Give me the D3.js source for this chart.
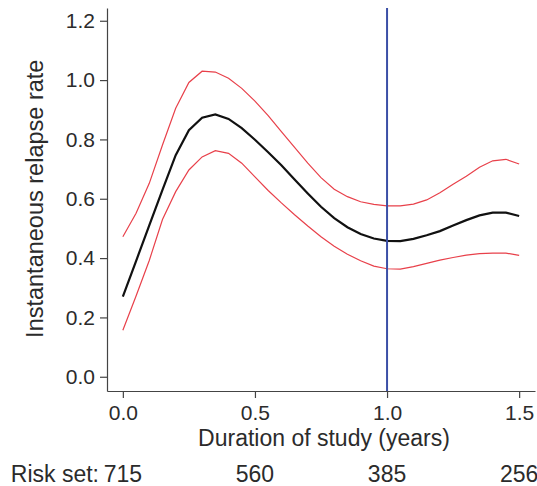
<!DOCTYPE html>
<html>
<head>
<meta charset="utf-8">
<script src="https://cdn.jsdelivr.net/npm/d3@7"></script>
<style>
  body { margin: 0; background: #fff; }
  text { font-family: "Liberation Sans", Arial, sans-serif; fill: #2b2b2b; }
</style>
</head>
<body>
<script>
// data (time in years, rate)
const times = [0, 0.05, 0.1, 0.15, 0.2, 0.25, 0.3, 0.35, 0.4, 0.45, 0.5,
  0.55, 0.6, 0.65, 0.7, 0.75, 0.8, 0.85, 0.9, 0.95, 1.0,
  1.05, 1.1, 1.15, 1.2, 1.25, 1.3, 1.35, 1.4, 1.45, 1.5];
const rate = [0.27, 0.39, 0.51, 0.63, 0.747, 0.831, 0.873, 0.884, 0.869, 0.838, 0.799,
  0.757, 0.713, 0.665, 0.618, 0.573, 0.535, 0.504, 0.481, 0.466, 0.458,
  0.457, 0.465, 0.477, 0.491, 0.51, 0.528, 0.544, 0.553, 0.553, 0.542];
const upper = [0.472, 0.551, 0.652, 0.781, 0.905, 0.992, 1.03, 1.027, 1.006, 0.972, 0.929,
  0.88, 0.826, 0.773, 0.72, 0.671, 0.632, 0.607, 0.59, 0.581, 0.576,
  0.576, 0.582, 0.596, 0.62, 0.649, 0.676, 0.706, 0.728, 0.733, 0.717];
const lower = [0.157, 0.272, 0.392, 0.53, 0.624, 0.697, 0.741, 0.762, 0.753, 0.72, 0.674,
  0.628, 0.586, 0.546, 0.508, 0.472, 0.44, 0.413, 0.391, 0.373, 0.364,
  0.363, 0.371, 0.382, 0.393, 0.402, 0.41, 0.415, 0.417, 0.417, 0.409];
const xTicks = [0, 0.5, 1.0, 1.5];
const yTicks = [0, 0.2, 0.4, 0.6, 0.8, 1.0, 1.2];
const riskSet = [715, 560, 385, 256];
const cutoff = 1.0;

const w = 537, h = 486;

const svg = d3.select("body").append("svg")
  .attr("width", w)
  .attr("height", h);

const x = d3.scaleLinear().domain([-0.06, 1.56]).range([107, 535]);
const y = d3.scaleLinear().domain([-0.048, 1.243]).range([391, 8]);

// axes
const xAxis = d3.axisBottom(x).tickValues(xTicks).tickFormat(d3.format(".1f"))
  .tickSizeInner(7).tickSizeOuter(0).tickPadding(7);
const yAxis = d3.axisLeft(y).tickValues(yTicks).tickFormat(d3.format(".1f"))
  .tickSizeInner(7).tickSizeOuter(0).tickPadding(5);

const gx = svg.append("g")
  .attr("transform", "translate(0," + y.range()[0] + ")")
  .call(xAxis);
const gy = svg.append("g")
  .attr("transform", "translate(" + x.range()[0] + ",0)")
  .call(yAxis);

[gx, gy].forEach(g => {
  g.selectAll("path, line").attr("stroke", "#444").attr("stroke-width", 1.2);
  g.selectAll("text").style("font-size", "21px").attr("fill", "#2b2b2b");
});

// curves
const line = vals => d3.line()
  .x((d, i) => x(times[i]))
  .y(d => y(d))(vals);

svg.append("path").attr("d", line(upper))
  .attr("fill", "none").attr("stroke", "#e8404a").attr("stroke-width", 1.2);
svg.append("path").attr("d", line(lower))
  .attr("fill", "none").attr("stroke", "#e8404a").attr("stroke-width", 1.2);
svg.append("path").attr("d", line(rate))
  .attr("fill", "none").attr("stroke", "#111").attr("stroke-width", 2.2);

// one year mark
svg.append("line")
  .attr("x1", x(cutoff)).attr("x2", x(cutoff))
  .attr("y1", y.range()[1]).attr("y2", y.range()[0])
  .attr("stroke", "#3b4fa6").attr("stroke-width", 2);

// titles
svg.append("text")
  .attr("x", 324).attr("y", 446)
  .attr("text-anchor", "middle")
  .style("font-size", "23px")
  .text("Duration of study (years)");

svg.append("text")
  .attr("transform", "translate(43," + (y(0) + y(1.2)) / 2 + ") rotate(-90)")
  .attr("text-anchor", "middle")
  .style("font-size", "23.5px")
  .text("Instantaneous relapse rate");

// risk set row
svg.selectAll(".risk")
  .data(riskSet)
  .enter().append("text")
  .classed("risk", true)
  .attr("x", (d, i) => x(xTicks[i]))
  .attr("y", 482)
  .attr("text-anchor", "middle")
  .style("font-size", "23px")
  .text(d => d);

svg.append("text")
  .attr("x", 99).attr("y", 482)
  .attr("text-anchor", "end")
  .style("font-size", "23px")
  .text("Risk set:");
</script>
</body>
</html>
